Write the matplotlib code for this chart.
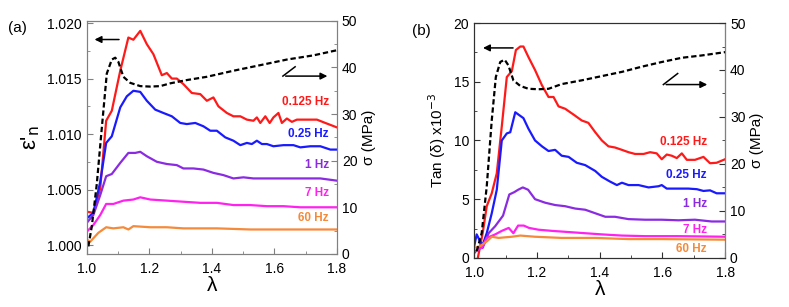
import matplotlib
matplotlib.use('Agg')
from matplotlib import pyplot as plt
from matplotlib.ticker import MultipleLocator

plt.rcParams['font.family'] = ['Liberation Sans', 'DejaVu Sans']
plt.rcParams['mathtext.fontset'] = 'dejavusans'

# ---- panel (a): normalised permittivity vs stretch ratio ----
a_red_x = [1.000, 1.021, 1.043, 1.062, 1.080, 1.107, 1.133, 1.149, 1.171, 1.192, 1.213, 1.240, 1.256,
           1.272, 1.288, 1.309, 1.336, 1.363, 1.384, 1.405, 1.421, 1.448, 1.469, 1.491, 1.512, 1.533,
           1.544, 1.555, 1.571, 1.585, 1.597, 1.613, 1.624, 1.640, 1.656, 1.672, 1.704, 1.736, 1.763, 1.800]
a_red_y = [1.0030, 1.0029, 1.0051, 1.0112, 1.0121, 1.0157, 1.0187, 1.0185, 1.0193, 1.0181, 1.0172,
           1.0153, 1.0155, 1.0150, 1.0150, 1.0145, 1.0137, 1.0136, 1.0130, 1.0133, 1.0125, 1.0119,
           1.0116, 1.0116, 1.0113, 1.0112, 1.0115, 1.0110, 1.0116, 1.0110, 1.0115, 1.0119, 1.0110,
           1.0114, 1.0111, 1.0113, 1.0113, 1.0113, 1.0110, 1.0106]
a_blue_x = [1.000, 1.021, 1.043, 1.062, 1.080, 1.107, 1.128, 1.149, 1.171, 1.192, 1.219, 1.245, 1.272,
            1.299, 1.320, 1.347, 1.373, 1.395, 1.416, 1.443, 1.469, 1.491, 1.512, 1.528, 1.544, 1.560,
            1.576, 1.597, 1.629, 1.661, 1.683, 1.715, 1.747, 1.779, 1.800]
a_blue_y = [1.0024, 1.0029, 1.0057, 1.0092, 1.0098, 1.0124, 1.0134, 1.0139, 1.0138, 1.0130, 1.0122,
            1.0119, 1.0116, 1.0110, 1.0109, 1.0110, 1.0107, 1.0103, 1.0103, 1.0097, 1.0094, 1.0090,
            1.0092, 1.0091, 1.0094, 1.0091, 1.0091, 1.0089, 1.0090, 1.0090, 1.0088, 1.0089, 1.0089,
            1.0086, 1.0086]
a_purple_x = [1.000, 1.021, 1.043, 1.062, 1.080, 1.107, 1.133, 1.155, 1.171, 1.192, 1.224, 1.256, 1.288,
              1.309, 1.341, 1.373, 1.405, 1.437, 1.469, 1.501, 1.533, 1.576, 1.629, 1.683, 1.747, 1.800]
a_purple_y = [1.0020, 1.0027, 1.0045, 1.0062, 1.0064, 1.0074, 1.0083, 1.0083, 1.0084, 1.0080, 1.0075,
              1.0073, 1.0072, 1.0069, 1.0069, 1.0068, 1.0065, 1.0063, 1.0060, 1.0061, 1.0060, 1.0060,
              1.0060, 1.0060, 1.0060, 1.0058]
a_mag_x = [1.000, 1.021, 1.043, 1.062, 1.085, 1.117, 1.149, 1.171, 1.203, 1.256, 1.309, 1.363, 1.416,
           1.469, 1.523, 1.576, 1.629, 1.683, 1.800]
a_mag_y = [1.0012, 1.0018, 1.0027, 1.0037, 1.0037, 1.0040, 1.0041, 1.0043, 1.0041, 1.0040, 1.0039,
           1.0038, 1.0038, 1.0036, 1.0036, 1.0035, 1.0035, 1.0034, 1.0034]
a_orange_x = [1.000, 1.011, 1.037, 1.062, 1.085, 1.117, 1.133, 1.149, 1.203, 1.256, 1.309, 1.416, 1.523,
              1.629, 1.800]
a_orange_y = [1.0005, 1.0003, 1.0011, 1.0016, 1.0015, 1.0016, 1.0014, 1.0017, 1.0016, 1.0016, 1.0015,
              1.0015, 1.0014, 1.0014, 1.0014]
a_sig_x = [1.005, 1.016, 1.032, 1.048, 1.064, 1.080, 1.091, 1.101, 1.117, 1.139, 1.171, 1.203, 1.235,
           1.267, 1.320, 1.384, 1.469, 1.555, 1.640, 1.725, 1.800]
a_sig_y = [1.6, 5.9, 15.0, 27.0, 38.7, 41.7, 42.1, 41.2, 38.0, 36.7, 36.0, 35.9, 36.0, 36.6, 37.3, 38.0,
           39.3, 40.5, 41.7, 42.6, 43.7]

# ---- panel (b): loss tangent vs stretch ratio ----
b_red_x = [1.008, 1.027, 1.040, 1.056, 1.072, 1.088, 1.104, 1.120, 1.133, 1.147, 1.157, 1.173, 1.194,
           1.216, 1.237, 1.253, 1.269, 1.290, 1.317, 1.343, 1.364, 1.386, 1.407, 1.428, 1.449, 1.471,
           1.492, 1.513, 1.540, 1.561, 1.582, 1.598, 1.614, 1.630, 1.646, 1.662, 1.678, 1.704, 1.731,
           1.752, 1.773, 1.800]
b_red_y = [-0.5, 2.1, 4.4, 5.5, 7.2, 11.2, 15.4, 15.9, 17.7, 18.0, 18.0, 17.1, 16.0, 14.7, 13.7, 13.7,
           12.9, 12.7, 12.2, 11.7, 11.5, 10.7, 10.0, 9.5, 9.4, 9.2, 9.0, 8.85, 8.85, 9.0, 8.9, 8.4, 8.8,
           8.7, 8.5, 8.9, 8.35, 8.35, 8.6, 8.06, 8.1, 8.4]
b_blue_x = [1.000, 1.008, 1.019, 1.027, 1.040, 1.056, 1.072, 1.088, 1.104, 1.115, 1.131, 1.157, 1.173,
            1.194, 1.216, 1.237, 1.258, 1.279, 1.301, 1.327, 1.354, 1.386, 1.407, 1.433, 1.455, 1.471,
            1.492, 1.524, 1.556, 1.588, 1.598, 1.614, 1.646, 1.683, 1.710, 1.731, 1.752, 1.773, 1.800]
b_blue_y = [1.0, 2.0, 1.4, 1.1, 2.1, 3.8, 5.8, 10.0, 10.6, 10.7, 12.4, 11.9, 11.0, 10.0, 9.5, 9.1, 9.2,
            8.7, 8.6, 8.1, 7.9, 7.4, 6.9, 6.5, 6.2, 6.4, 6.2, 6.2, 6.0, 6.1, 6.2, 5.9, 5.9, 5.9, 5.85,
            5.7, 5.75, 5.5, 5.5]
b_purple_x = [1.000, 1.014, 1.027, 1.046, 1.067, 1.092, 1.112, 1.128, 1.140, 1.155, 1.172, 1.194, 1.226,
              1.258, 1.290, 1.322, 1.354, 1.386, 1.418, 1.449, 1.492, 1.545, 1.598, 1.651, 1.704, 1.757,
              1.800]
b_purple_y = [0.4, 0.85, 0.85, 2.1, 2.7, 3.6, 5.4, 5.6, 5.8, 6.0, 5.8, 5.0, 4.7, 4.5, 4.4, 4.2, 4.1,
              3.8, 3.5, 3.5, 3.3, 3.25, 3.25, 3.2, 3.25, 3.1, 3.1]
b_mag_x = [1.000, 1.024, 1.040, 1.067, 1.088, 1.110, 1.125, 1.140, 1.158, 1.175, 1.205, 1.248, 1.301,
           1.354, 1.407, 1.471, 1.545, 1.651, 1.800]
b_mag_y = [0.55, 0.85, 1.7, 2.0, 2.3, 2.55, 2.1, 2.75, 2.75, 2.55, 2.4, 2.3, 2.2, 2.1, 2.0, 1.9, 1.85,
           1.85, 1.8]
b_orange_x = [1.000, 1.019, 1.040, 1.056, 1.078, 1.120, 1.147, 1.194, 1.279, 1.386, 1.492, 1.598, 1.800]
b_orange_y = [0.85, 1.0, 1.4, 1.8, 1.7, 1.8, 1.9, 1.8, 1.7, 1.7, 1.6, 1.6, 1.55]
b_sig_x = [1.008, 1.024, 1.040, 1.056, 1.069, 1.083, 1.097, 1.109, 1.125, 1.147, 1.173, 1.205, 1.237,
           1.279, 1.343, 1.407, 1.471, 1.534, 1.598, 1.662, 1.726, 1.800]
b_sig_y = [1.4, 5.3, 15.2, 29.3, 38.5, 41.7, 42.2, 41.0, 37.8, 36.6, 36.0, 35.9, 36.0, 37.0, 37.8, 38.7,
           39.6, 40.7, 41.7, 42.6, 43.1, 43.8]

freq_labels = ['0.125 Hz', '0.25 Hz', '1 Hz', '7 Hz', '60 Hz']
colors = ['#ff1a1a', '#1a1aff', '#8a2be2', '#ff22ee', '#f58a3a']

fig = plt.figure(figsize=(7.89, 3.07), dpi=100)
axA = fig.add_axes([0.110, 0.173, 0.317, 0.759])
axB = fig.add_axes([0.601, 0.160, 0.318, 0.765])


def style(ax, axr, spine_col):
    for a in (ax, axr):
        for s in a.spines.values():
            s.set_color(spine_col)
        a.tick_params(which='both', direction='in', labelsize=10, color=spine_col)
        a.tick_params(which='major', length=4)
        a.tick_params(which='minor', length=2)
    ax.tick_params(axis='x', pad=6)
    ax.xaxis.set_minor_locator(MultipleLocator(0.1))
    ax.xaxis.set_major_locator(MultipleLocator(0.2))
    ax.set_xlim(1.0, 1.8)
    ax.set_xlabel('λ', fontsize=15, labelpad=0)
    axr.set_ylim(0, 50)
    axr.yaxis.set_major_locator(MultipleLocator(10))
    axr.yaxis.set_minor_locator(MultipleLocator(5))
    axr.set_ylabel('σ (MPa)', fontsize=11, labelpad=3)


# panel (a)
axA_r = axA.twinx()
a_series = [(a_red_x, a_red_y), (a_blue_x, a_blue_y), (a_purple_x, a_purple_y),
            (a_mag_x, a_mag_y), (a_orange_x, a_orange_y)]
for (xs, ys), c in zip(a_series, colors):
    axA.plot(xs, ys, color=c, lw=1.6)
axA_r.plot(a_sig_x, a_sig_y, color='black', lw=1.6, ls=(0, (2.4, 1.3)))
axA.set_ylim(0.9992, 1.0202)
axA.yaxis.set_major_locator(MultipleLocator(0.005))
axA.yaxis.set_minor_locator(MultipleLocator(0.0025))
axA.yaxis.set_major_formatter(plt.FormatStrFormatter('%.3f'))
axA.set_ylabel("ε'$_{\\rm n}$", fontsize=16, labelpad=4)
style(axA, axA_r, '#808080')

a_lab_y = [0.653, 0.514, 0.381, 0.26, 0.153]
for t, c, y in zip(freq_labels, colors, a_lab_y):
    axA.text(0.967, y, t, color=c, fontsize=8.5, fontweight='bold', ha='right', va='center',
             transform=axA.transAxes)
axA.annotate('', xy=(0.02, 0.92), xytext=(0.14, 0.92), xycoords='axes fraction',
             arrowprops=dict(arrowstyle='-|>', color='black', lw=1.1, mutation_scale=10))
axA.annotate('', xy=(0.973, 0.763), xytext=(0.784, 0.763), xycoords='axes fraction',
             arrowprops=dict(arrowstyle='-|>', color='black', lw=1.1, mutation_scale=10))
axA.plot([0.784, 0.833], [0.763, 0.803], color='black', lw=1.1, transform=axA.transAxes)
fig.text(0.010, 0.895, '(a)', fontsize=11)

# panel (b)
axB_r = axB.twinx()
b_series = [(b_red_x, b_red_y), (b_blue_x, b_blue_y), (b_purple_x, b_purple_y),
            (b_mag_x, b_mag_y), (b_orange_x, b_orange_y)]
for (xs, ys), c in zip(b_series, colors):
    axB.plot(xs, ys, color=c, lw=1.6)
axB_r.plot(b_sig_x, b_sig_y, color='black', lw=1.6, ls=(0, (2.4, 1.3)))
axB.set_ylim(0, 20)
axB.yaxis.set_major_locator(MultipleLocator(5))
axB.yaxis.set_minor_locator(MultipleLocator(2.5))
axB.set_ylabel('Tan (δ) x10$^{-3}$', fontsize=11, labelpad=4)
style(axB, axB_r, '#303030')
axB_r.spines['right'].set_color('#808080')

b_lab_y = [0.495, 0.351, 0.231, 0.12, 0.038]
for t, c, y in zip(freq_labels, colors, b_lab_y):
    axB.text(0.927, y, t, color=c, fontsize=8.5, fontweight='bold', ha='right', va='center',
             transform=axB.transAxes)
axB.annotate('', xy=(0.024, 0.894), xytext=(0.166, 0.894), xycoords='axes fraction',
             arrowprops=dict(arrowstyle='-|>', color='black', lw=1.1, mutation_scale=10))
axB.annotate('', xy=(0.94, 0.738), xytext=(0.754, 0.738), xycoords='axes fraction',
             arrowprops=dict(arrowstyle='-|>', color='black', lw=1.1, mutation_scale=10))
axB.plot([0.754, 0.811], [0.738, 0.785], color='black', lw=1.1, transform=axB.transAxes)
fig.text(0.522, 0.885, '(b)', fontsize=11)

fig.savefig('out.png', dpi=100)
